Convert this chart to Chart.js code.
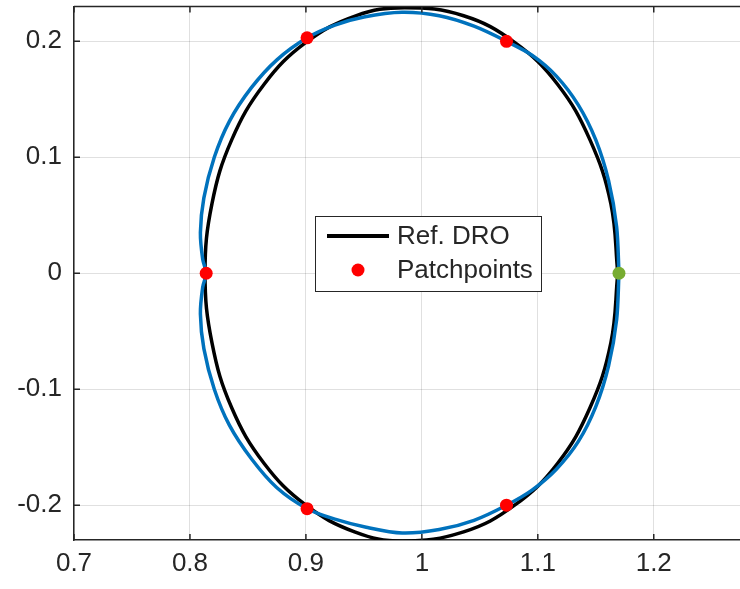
<!DOCTYPE html>
<html>
<head>
<meta charset="utf-8">
<script src="https://cdn.jsdelivr.net/npm/chart.js@4.4.1/dist/chart.umd.min.js"></script>
<style>
  html, body { margin: 0; padding: 0; background: #fff; overflow: hidden; }
  #orbit { display: block; }
</style>
</head>
<body>
<canvas id="orbit" width="760" height="589"></canvas>
<script>
// reference DRO (black)
const refX = [1.169, 1.163, 1.145, 1.117, 1.080, 1.036, 0.985, 0.943, 0.900, 0.864, 0.836, 0.819, 0.813,
              0.819, 0.836, 0.864, 0.900, 0.942, 0.983, 1.036, 1.080, 1.117, 1.145, 1.163, 1.169];
const refY = [0, 0.060, 0.115, 0.163, 0.199, 0.222, 0.229, 0.222, 0.199, 0.163, 0.115, 0.060, 0,
              -0.060, -0.116, -0.164, -0.200, -0.223, -0.231, -0.223, -0.200, -0.164, -0.116, -0.060, 0];

// corrected trajectory (blue)
const trajX = [1.170, 1.168, 1.161, 1.150, 1.135, 1.116, 1.095, 1.073, 1.045, 1.015, 0.983, 0.950, 0.925, 0.901,
               0.875, 0.853, 0.834, 0.821, 0.812, 0.809, 0.811, 0.814, 0.811, 0.809, 0.812, 0.821, 0.834, 0.853,
               0.875, 0.901, 0.925, 0.952, 0.983, 1.015, 1.045, 1.073, 1.095, 1.116, 1.135, 1.150, 1.161, 1.168, 1.170];
const trajY = [0, 0.040, 0.080, 0.115, 0.145, 0.170, 0.188, 0.200, 0.213, 0.222, 0.225, 0.221, 0.214, 0.203,
               0.184, 0.160, 0.131, 0.100, 0.065, 0.035, 0.012, 0, -0.012, -0.035, -0.065, -0.100, -0.131, -0.160,
               -0.185, -0.203, -0.212, -0.219, -0.224, -0.221, -0.213, -0.200, -0.187, -0.169, -0.145, -0.115, -0.080, -0.040, 0];

const patchX = [0.814, 0.901, 1.073, 0.901, 1.073];
const patchY = [0, 0.203, 0.200, -0.203, -0.200];
const startX = [1.170];
const startY = [0];

const xTicks = [0.7, 0.8, 0.9, 1, 1.1, 1.2];
const yTicks = [-0.2, -0.1, 0, 0.1, 0.2];

const toPts = (xs, ys) => xs.map((x, i) => ({ x: x, y: ys[i] }));

const axisColor = '#262626';
const fontFam = "'Liberation Sans', Arial, sans-serif";

// box on top + inward ticks, MATLAB style
const boxTicks = {
  id: 'boxTicks',
  afterDatasetsDraw(chart) {
    const { ctx, chartArea: a, scales } = chart;
    ctx.save();
    ctx.strokeStyle = axisColor;
    ctx.lineWidth = 1.5;
    ctx.beginPath();
    ctx.moveTo(a.left, a.top);
    ctx.lineTo(a.right, a.top);
    xTicks.forEach(v => {
      const px = scales.x.getPixelForValue(v);
      ctx.moveTo(px, a.bottom); ctx.lineTo(px, a.bottom - 6);
      ctx.moveTo(px, a.top); ctx.lineTo(px, a.top + 6);
    });
    yTicks.forEach(v => {
      const py = scales.y.getPixelForValue(v);
      ctx.moveTo(a.left, py); ctx.lineTo(a.left + 6, py);
    });
    ctx.stroke();
    ctx.restore();
  }
};

// legend box inside the axes
const innerLegend = {
  id: 'innerLegend',
  afterDraw(chart) {
    const ctx = chart.ctx;
    const bx = 315, by = 216, bw = 226, bh = 75;
    ctx.save();
    ctx.fillStyle = '#fff';
    ctx.fillRect(bx, by, bw, bh);
    ctx.strokeStyle = axisColor;
    ctx.lineWidth = 1;
    ctx.strokeRect(bx + 0.5, by + 0.5, bw, bh);

    ctx.strokeStyle = '#000';
    ctx.lineWidth = 4;
    ctx.beginPath();
    ctx.moveTo(327, 236);
    ctx.lineTo(389, 236);
    ctx.stroke();

    ctx.fillStyle = '#ff0000';
    ctx.beginPath();
    ctx.arc(358, 270, 6.5, 0, Math.PI * 2);
    ctx.fill();

    ctx.fillStyle = axisColor;
    ctx.font = '26px ' + fontFam;
    ctx.textBaseline = 'middle';
    ctx.textAlign = 'left';
    ctx.fillText('Ref. DRO', 397, 237);
    ctx.fillText('Patchpoints', 397, 271);
    ctx.restore();
  }
};

new Chart(document.getElementById('orbit'), {
  type: 'scatter',
  data: {
    datasets: [
      {
        label: 'start',
        data: toPts(startX, startY),
        pointRadius: 6.5,
        pointBackgroundColor: '#77ac30',
        pointBorderWidth: 0,
        order: 0
      },
      {
        label: 'Patchpoints',
        data: toPts(patchX, patchY),
        pointRadius: 6.5,
        pointBackgroundColor: '#ff0000',
        pointBorderWidth: 0,
        order: 1
      },
      {
        label: 'Trajectory',
        data: toPts(trajX, trajY),
        showLine: true,
        borderColor: '#0072bd',
        borderWidth: 3.5,
        pointRadius: 0,
        tension: 0.3,
        order: 2
      },
      {
        label: 'Ref. DRO',
        data: toPts(refX, refY),
        showLine: true,
        borderColor: '#000000',
        borderWidth: 3.5,
        pointRadius: 0,
        tension: 0.4,
        order: 3
      }
    ]
  },
  options: {
    responsive: false,
    animation: false,
    layout: { padding: { top: 6, right: 10, left: 0, bottom: 0 } },
    plugins: {
      legend: { display: false },
      tooltip: { enabled: false }
    },
    scales: {
      x: {
        type: 'linear',
        min: 0.7,
        max: 1.283,
        afterBuildTicks: s => { s.ticks = xTicks.map(v => ({ value: v })); },
        afterFit: s => { s.height = 49; s.paddingLeft = 0; s.paddingRight = 0; },
        ticks: {
          color: axisColor,
          font: { family: fontFam, size: 26 },
          padding: 8,
          maxRotation: 0,
          callback: v => String(v)
        },
        grid: { color: 'rgba(0,0,0,0.12)', drawTicks: false },
        border: { color: axisColor, width: 1.5 }
      },
      y: {
        type: 'linear',
        min: -0.23,
        max: 0.23,
        afterBuildTicks: s => { s.ticks = yTicks.map(v => ({ value: v })); },
        afterFit: s => { s.width = 74; s.paddingTop = 0; s.paddingBottom = 0; },
        ticks: {
          color: axisColor,
          font: { family: fontFam, size: 26 },
          padding: 12,
          callback: v => String(v)
        },
        grid: { color: 'rgba(0,0,0,0.12)', drawTicks: false },
        border: { color: axisColor, width: 1.5 }
      }
    }
  },
  plugins: [boxTicks, innerLegend]
});
</script>
</body>
</html>
